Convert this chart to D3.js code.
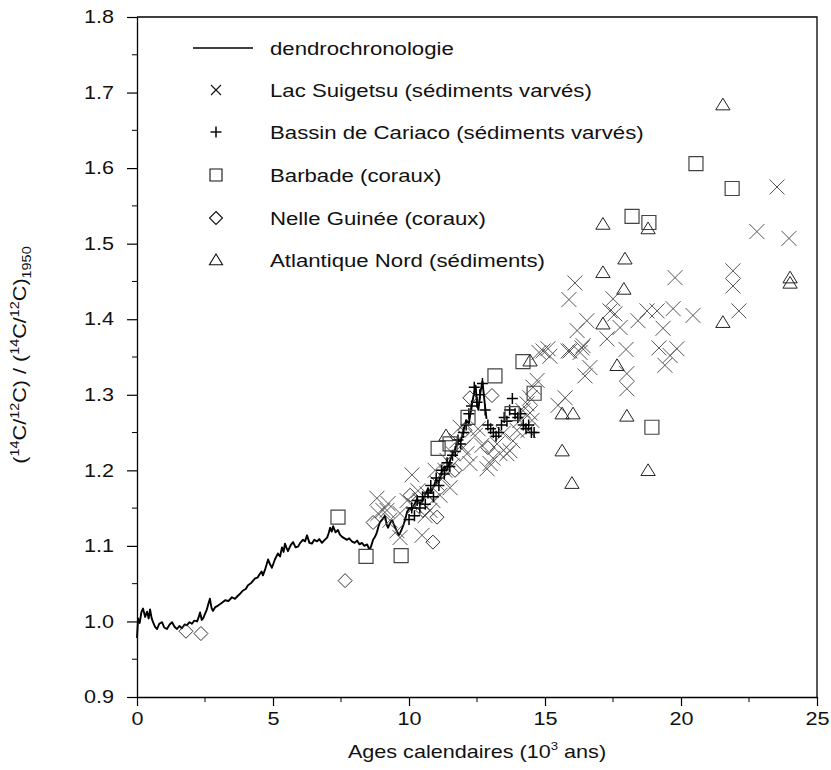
<!DOCTYPE html>
<html>
<head>
<meta charset="utf-8">
<script src="https://cdn.jsdelivr.net/npm/d3@7"></script>
<style>
  body { margin: 0; background: #fff; }
  text { font-family: "Liberation Sans", Arial, Helvetica, sans-serif; fill: #111; }
</style>
</head>
<body>
<div id="chart"></div>
<script>
// ---- data : [age (10^3 ans), (14C/12C)/(14C/12C)1950] ----
const dendro = [
  [0,0.978],[0.04,1.004],[0.1,0.998],[0.16,1.012],[0.22,1.017],[0.3,1.006],[0.37,1.013],[0.43,1.004],
  [0.48,1.016],[0.54,1.004],[0.59,0.999],[0.66,0.993],[0.74,0.990],[0.82,0.997],[0.92,0.999],[1.0,0.992],
  [1.1,0.990],[1.2,0.996],[1.29,0.999],[1.38,0.993],[1.47,0.990],[1.56,0.994],[1.65,0.991],[1.75,0.996],
  [1.84,0.995],[1.93,0.999],[2.02,0.997],[2.1,1.001],[2.21,1.000],[2.27,1.006],[2.32,1.012],[2.38,1.002],
  [2.43,1.004],[2.5,1.010],[2.57,1.016],[2.63,1.024],[2.68,1.030],[2.74,1.018],[2.79,1.014],[2.88,1.019],
  [2.98,1.021],[3.1,1.024],[3.24,1.028],[3.36,1.027],[3.49,1.032],[3.6,1.030],[3.71,1.034],[3.8,1.037],
  [3.9,1.041],[4.0,1.043],[4.08,1.048],[4.2,1.051],[4.34,1.057],[4.43,1.058],[4.52,1.063],[4.58,1.066],
  [4.63,1.061],[4.72,1.070],[4.82,1.082],[4.9,1.075],[4.96,1.071],[5.07,1.082],[5.18,1.090],[5.26,1.086],
  [5.33,1.098],[5.39,1.092],[5.44,1.103],[5.5,1.097],[5.55,1.093],[5.65,1.101],[5.74,1.105],[5.83,1.098],
  [5.92,1.099],[6.0,1.104],[6.1,1.108],[6.18,1.106],[6.25,1.114],[6.34,1.104],[6.43,1.103],[6.52,1.108],
  [6.62,1.106],[6.7,1.109],[6.8,1.104],[6.9,1.108],[6.99,1.111],[7.05,1.117],[7.1,1.124],[7.16,1.119],
  [7.21,1.126],[7.3,1.118],[7.39,1.121],[7.46,1.115],[7.54,1.112],[7.63,1.110],[7.72,1.108],[7.8,1.110],
  [7.9,1.106],[8.0,1.104],[8.09,1.107],[8.18,1.102],[8.27,1.104],[8.36,1.100],[8.46,1.102],[8.52,1.097],
  [8.57,1.096],[8.62,1.101],[8.68,1.108],[8.75,1.112],[8.82,1.118],[8.88,1.126],[8.93,1.131],[9.02,1.135],
  [9.12,1.140],[9.18,1.128],[9.23,1.124],[9.3,1.130],[9.38,1.134],[9.47,1.126],[9.56,1.119],[9.62,1.114],
  [9.67,1.117],[9.72,1.121],[9.78,1.126],[9.86,1.135],[9.93,1.145],[10.02,1.150],[10.11,1.148],[10.2,1.155],
  [10.29,1.162],[10.4,1.155],[10.5,1.160],[10.6,1.168],[10.7,1.176],[10.8,1.170],[10.9,1.178],[11.0,1.188],
  [11.1,1.185],[11.2,1.198],[11.3,1.205],[11.4,1.200],[11.5,1.212],[11.6,1.222],[11.7,1.228],[11.8,1.240],
  [11.9,1.238],[12.0,1.252],[12.1,1.266],[12.2,1.262],[12.3,1.285],[12.38,1.300],[12.45,1.312],[12.5,1.288],
  [12.55,1.280],[12.62,1.302],[12.7,1.318],[12.78,1.290],[12.85,1.268]
];

const suigetsu = [
  [23.53,1.575],[22.79,1.516],[23.97,1.507],[21.91,1.464],[21.91,1.444],[22.13,1.411],[19.78,1.455],[20.44,1.405],
  [16.10,1.448],[15.88,1.426],[16.54,1.398],[16.18,1.385],[15.92,1.358],[16.36,1.362],[16.65,1.336],[16.47,1.325],
  [17.50,1.427],[17.39,1.411],[17.57,1.407],[17.76,1.389],[17.28,1.374],[17.98,1.360],[18.01,1.328],[18.01,1.308],
  [18.42,1.398],[18.75,1.411],[19.12,1.411],[19.71,1.414],[19.34,1.388],[19.19,1.362],[19.85,1.361],[19.60,1.352],
  [19.41,1.339],[14.93,1.358],[15.11,1.361],[15.18,1.351],[14.78,1.356],[15.85,1.358],[16.29,1.356],[16.40,1.365],
  [14.71,1.319],[14.56,1.310],[14.45,1.296],[14.34,1.288],[14.19,1.279],[14.45,1.276],[15.74,1.296],[15.48,1.286],
  [14.08,1.266],[14.52,1.266],[14.38,1.253],[13.97,1.253],[13.82,1.239],[13.71,1.226],[13.46,1.249],[13.24,1.235],
  [13.60,1.222],[13.35,1.222],[13.09,1.216],[12.98,1.209],[12.87,1.202],[12.54,1.255],[12.24,1.209],[12.13,1.222],
  [11.99,1.230],[11.76,1.239],[11.88,1.257],[11.62,1.222],[11.40,1.213],[10.11,1.194],[11.03,1.183],[11.25,1.190],
  [11.51,1.177],[10.66,1.169],[10.40,1.160],[10.77,1.147],[9.67,1.143],[9.19,1.147],[9.30,1.134],[8.82,1.163],
  [9.23,1.156],[9.04,1.147],[8.86,1.143],[10.48,1.114],[9.67,1.111],[9.56,1.120],[9.93,1.160],[10.22,1.153],
  [10.59,1.140],[10.33,1.173],[10.88,1.160],[11.14,1.167],[11.32,1.200],[11.58,1.206],[10.96,1.200],[12.68,1.233],
  [12.43,1.246]
];

const cariaco = [
  [10.0,1.135],[10.1,1.150],[10.2,1.140],[10.3,1.160],[10.4,1.150],[10.5,1.165],[10.6,1.155],[10.7,1.170],
  [10.8,1.180],[10.9,1.165],[11.0,1.190],[11.1,1.180],[11.2,1.200],[11.3,1.195],[11.4,1.210],[11.5,1.205],
  [11.6,1.220],[11.7,1.225],[11.8,1.240],[11.9,1.235],[12.0,1.250],[12.1,1.260],[12.2,1.275],[12.3,1.285],
  [12.4,1.310],[12.5,1.290],[12.6,1.300],[12.7,1.315],[12.8,1.280],[12.9,1.260],[13.0,1.255],[13.1,1.250],
  [13.2,1.245],[13.3,1.250],[13.4,1.260],[13.5,1.270],[13.6,1.265],[13.7,1.280],[13.8,1.295],[13.9,1.275],
  [14.0,1.270],[14.1,1.275],[14.2,1.260],[14.3,1.255],[14.4,1.260],[14.5,1.250],[14.6,1.250]
];

const barbade = [
  [7.39,1.138],[8.42,1.086],[9.71,1.087],[11.07,1.229],[11.51,1.235],[12.17,1.270],[13.16,1.325],[14.19,1.344],
  [14.60,1.302],[13.79,1.275],[18.20,1.536],[18.82,1.528],[20.55,1.606],[21.88,1.573],[18.93,1.257]
];

const guinee = [
  [1.80,0.987],[2.35,0.984],[7.65,1.054],[8.68,1.131],[10.88,1.105],[11.03,1.138],[12.24,1.296],[13.05,1.299],
  [12.90,1.230],[10.04,1.167],[10.51,1.147],[11.69,1.200],[12.06,1.253]
];

const atlantique = [
  [21.54,1.684],[17.13,1.526],[18.79,1.520],[17.94,1.480],[17.13,1.462],[17.90,1.440],[24.01,1.455],[24.01,1.448],
  [17.13,1.394],[21.54,1.396],[17.65,1.339],[15.63,1.275],[16.03,1.275],[18.01,1.272],[14.45,1.345],[15.63,1.226],
  [15.99,1.183],[11.36,1.246],[18.79,1.200]
];

const xTicks = [0, 5, 10, 15, 20, 25];
const xMinor = [2.5, 7.5, 12.5, 17.5, 22.5];
const yTicks = [0.9, 1.0, 1.1, 1.2, 1.3, 1.4, 1.5, 1.6, 1.7, 1.8];
const yMinor = [0.95, 1.05, 1.15, 1.25, 1.35, 1.45, 1.55, 1.65, 1.75];

const legendLabels = [
  "dendrochronologie",
  "Lac Suigetsu (sédiments varvés)",
  "Bassin de Cariaco (sédiments varvés)",
  "Barbade (coraux)",
  "Nelle Guinée (coraux)",
  "Atlantique Nord (sédiments)"
];

// ---- layout ----
const W = 831, H = 770;
const m = {left: 137, right: 817, top: 17, bottom: 697};
const SX = 1.2; // the original lettering is wider than Arial

const svg = d3.select("#chart").append("svg")
  .attr("width", W)
  .attr("height", H);

const x = d3.scaleLinear().domain([0, 25]).range([m.left, m.right]);
const y = d3.scaleLinear().domain([0.9, 1.8]).range([m.bottom, m.top]);

// marker shapes
const shapes = {
  x: h => `M${-h},${-h}L${h},${h}M${-h},${h}L${h},${-h}`,
  plus: h => `M${-h},0H${h}M0,${-h}V${h}`,
  square: h => `M${-h},${-h}H${h}V${h}H${-h}Z`,
  diamond: h => `M0,${-h}L${h},0L0,${h}L${-h},0Z`,
  triangle: h => `M0,${-h}L${h * 1.1},${h * 0.8}L${-h * 1.1},${h * 0.8}Z`
};

// dendro line
const line = d3.line()
  .x(d => x(d[0]))
  .y(d => y(d[1]));

svg.append("path")
  .datum(dendro)
  .attr("fill", "none")
  .attr("stroke", "#000")
  .attr("stroke-width", 1.9)
  .attr("stroke-linejoin", "round")
  .attr("d", line);

function drawPoints(data, shape, h, color, sw) {
  svg.append("g").selectAll("path")
    .data(data)
    .join("path")
    .attr("transform", d => `translate(${x(d[0])},${y(d[1])})`)
    .attr("d", shapes[shape](h))
    .attr("fill", "none")
    .attr("stroke", color)
    .attr("stroke-width", sw);
}

drawPoints(suigetsu, "x", 7.5, "#555", 1);
drawPoints(cariaco, "plus", 5.5, "#000", 1.5);
drawPoints(barbade, "square", 7, "#444", 1.2);
drawPoints(guinee, "diamond", 7, "#333", 1);
drawPoints(atlantique, "triangle", 6.5, "#222", 1);

// axes
const xAxis = svg.append("g")
  .attr("transform", `translate(0,${m.bottom})`)
  .call(d3.axisBottom(x).tickValues(xTicks).tickSize(9).tickSizeOuter(0).tickFormat(d3.format("d")));
xAxis.append("g").selectAll("line")
  .data(xMinor)
  .join("line")
  .attr("x1", d => x(d)).attr("x2", d => x(d))
  .attr("y1", 0).attr("y2", 5)
  .attr("stroke", "#000");

const yAxis = svg.append("g")
  .attr("transform", `translate(${m.left},0)`)
  .call(d3.axisLeft(y).tickValues(yTicks).tickSize(10).tickSizeOuter(0).tickFormat(d3.format(".1f")));
yAxis.append("g").selectAll("line")
  .data(yMinor)
  .join("line")
  .attr("y1", d => y(d)).attr("y2", d => y(d))
  .attr("x1", 0).attr("x2", -5)
  .attr("stroke", "#000");

[xAxis, yAxis].forEach(a => {
  a.select(".domain").attr("stroke-width", 1.3);
  a.selectAll(".tick line").attr("stroke-width", 1.2);
  a.selectAll("text").attr("font-size", 18).attr("fill", "#111")
    .attr("font-family", '"Liberation Sans", Arial, sans-serif');
});
xAxis.selectAll(".tick text").attr("y", 0).attr("transform", `translate(0,15) scale(${SX},1)`);
yAxis.selectAll(".tick text").attr("x", 0).attr("transform", `translate(-23,0) scale(${SX},1)`);

// frame (top and right)
svg.append("path")
  .attr("d", `M${m.left},${m.top}H${m.right}V${m.bottom}`)
  .attr("fill", "none")
  .attr("stroke", "#000")
  .attr("stroke-width", 1.3);

// axis titles
const xt = svg.append("text")
  .attr("transform", `translate(477,758) scale(1.2,1)`)
  .attr("text-anchor", "middle")
  .attr("font-size", 18);
xt.append("tspan").text("Ages calendaires (10");
xt.append("tspan").attr("font-size", 11).attr("dy", -8).text("3");
xt.append("tspan").attr("dy", 8).text(" ans)");

const yt = svg.append("text")
  .attr("transform", `translate(26,355) rotate(-90) scale(1.2,1)`)
  .attr("text-anchor", "middle")
  .attr("font-size", 18);
const ytParts = [["(", 0], ["14", 1], ["C/", 0], ["12", 1], ["C) / (", 0], ["14", 1], ["C/", 0], ["12", 1], ["C)", 0], ["1950", 2]];
let shift = 0;
ytParts.forEach(([t, k]) => {
  const target = k === 1 ? -7 : k === 2 ? 5 : 0;
  yt.append("tspan")
    .attr("font-size", k ? 12 : 18)
    .attr("dy", target - shift)
    .text(t);
  shift = target;
});

// legend
const legendRows = [48, 90, 132, 175, 218, 260];
const legendShapes = [null, "x", "plus", "square", "diamond", "triangle"];
const legendSize = [0, 5, 5.5, 6, 6.5, 6];
const lg = svg.append("g");
lg.append("line")
  .attr("x1", 193).attr("x2", 253)
  .attr("y1", legendRows[0]).attr("y2", legendRows[0])
  .attr("stroke", "#000").attr("stroke-width", 1.6);
legendShapes.forEach((s, i) => {
  if (s) {
    lg.append("path")
      .attr("transform", `translate(216,${legendRows[i]})`)
      .attr("d", shapes[s](legendSize[i]))
      .attr("fill", "none")
      .attr("stroke", "#111")
      .attr("stroke-width", s === "plus" ? 1.6 : 1.1);
  }
  lg.append("text")
    .attr("transform", `translate(270,${legendRows[i] + 7}) scale(${SX},1)`)
    .attr("font-size", 18.5)
    .text(legendLabels[i]);
});
</script>
</body>
</html>
